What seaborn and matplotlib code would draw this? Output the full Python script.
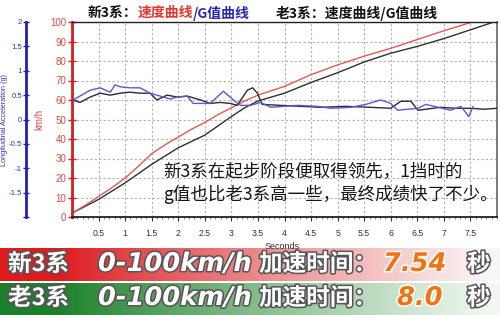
import numpy as np
import pandas as pd
import matplotlib
matplotlib.use("Agg")
import matplotlib.pyplot as plt
import matplotlib.patheffects as pe
import seaborn as sns

# ---------------- data ----------------
t_speed_new = [0, 0.25, 0.5, 0.75, 1.0, 1.25, 1.5, 1.75, 2.0, 2.25, 2.5, 2.75, 3.0, 3.25,
               3.5, 4.0, 4.5, 5.0, 5.5, 6.0, 6.5, 7.0, 7.54]
speed_new = [2, 6, 10.5, 15, 20, 26, 32.5, 37, 41, 45, 48.5, 52.5, 56, 59.5,
             62.5, 67, 73, 78, 82.5, 86.5, 91, 95.5, 100]

t_speed_old = [0, 0.5, 1.0, 1.5, 2.0, 2.5, 3.0, 3.25, 3.5, 4.0, 4.5, 5.0, 5.5, 6.0, 6.5,
               7.0, 7.5, 7.94]
speed_old = [2, 9, 17.5, 27, 35.5, 42, 51.5, 56, 59.5, 63.5, 69, 74, 79.5, 84, 87.5,
             91.5, 96, 100]

t_g_new = [0.02, 0.34, 0.53, 0.72, 0.81, 0.91, 1.09, 1.28, 1.47, 1.66, 1.85, 1.98, 2.17,
           2.28, 2.47, 2.60, 2.85, 3.04, 3.17, 3.36, 3.55, 3.74, 4.25, 4.62, 4.87, 5.25,
           5.53, 5.81, 6.0, 6.13, 6.51, 6.66, 6.89, 7.13, 7.32, 7.47, 7.55]
g_new = [0.40, 0.60, 0.65, 0.56, 0.71, 0.67, 0.65, 0.65, 0.54, 0.48, 0.42, 0.46, 0.48,
         0.33, 0.33, 0.33, 0.58, 0.40, 0.29, 0.29, 0.35, 0.25, 0.29, 0.27, 0.23, 0.25,
         0.31, 0.40, 0.33, 0.19, 0.23, 0.31, 0.25, 0.19, 0.27, 0.06, 0.27]

t_g_old = [0.02, 0.15, 0.34, 0.53, 0.72, 0.91, 1.09, 1.28, 1.47, 1.60, 1.79, 1.98, 2.17,
           2.42, 2.60, 2.79, 2.98, 3.11, 3.30, 3.40, 3.49, 3.58, 3.92, 4.30, 4.68, 5.15,
           5.62, 6.0, 6.19, 6.38, 6.51, 6.94, 7.23, 7.51, 7.75, 8.0]
g_old = [0.40, 0.35, 0.46, 0.54, 0.50, 0.54, 0.56, 0.54, 0.54, 0.40, 0.50, 0.46, 0.48,
         0.40, 0.33, 0.35, 0.33, 0.29, 0.60, 0.65, 0.54, 0.31, 0.29, 0.27, 0.25, 0.27,
         0.25, 0.23, 0.375, 0.375, 0.19, 0.25, 0.23, 0.23, 0.21, 0.23]

speed_ticks = [0, 10, 20, 30, 40, 50, 60, 70, 80, 90, 100]
g_ticks = [-2, -1.5, -1, -0.5, 0, 0.5, 1, 1.5, 2]
g_tick_labels = ["", "-1.5", "-1", "-0.5", "0", "0.5", "1", "1.5", "2"]
x_ticks = [0.5, 1, 1.5, 2, 2.5, 3, 3.5, 4, 4.5, 5, 5.5, 6, 6.5, 7, 7.5]
x_tick_labels = ["0.5", "1", "1.5", "2", "2.5", "3", "3.5", "4", "4.5", "5", "5.5", "6",
                 "6.5", "7", "7.5"]

# ---------------- style ----------------
sns.set_style("white")
plt.rcParams["font.family"] = ["Liberation Sans", "Noto Sans CJK SC"]
CJK = ["Noto Sans CJK SC", "DejaVu Sans"]

W, H = 500, 315
fig = plt.figure(figsize=(W / 100, H / 100), dpi=100)
fig.patch.set_facecolor("white")

# banners (background)
axb = fig.add_axes([0, 0, 1, 67 / H])
axb.set_axis_off()
xs = np.linspace(0, 1, 500)
w = np.clip((xs - 0.12) / 0.85, 0, 1) ** 0.9
red0 = np.array([222, 28, 32]) / 255
grn0 = np.array([28, 128, 42]) / 255
white = np.array([250, 245, 245]) / 255
whiteg = np.array([240, 248, 240]) / 255
red_row = red0[None, :] * (1 - w[:, None]) + white[None, :] * w[:, None]
grn_row = grn0[None, :] * (1 - w[:, None]) + whiteg[None, :] * w[:, None]
img = np.ones((67, 500, 3))
img[0:33] = red_row[None, :, :]
img[33:35] = 1.0
img[35:] = grn_row[None, :, :]
axb.imshow(img, aspect="auto", extent=[0, 1, 0, 1], origin="upper")

# main axes
L, R, T, B = 72, 497, 22, 217
ax = fig.add_axes([L / W, 1 - B / H, (R - L) / W, (B - T) / H])
ax.set_facecolor("white")

df_new = pd.DataFrame({"t": t_speed_new, "v": speed_new})
df_old = pd.DataFrame({"t": t_speed_old, "v": speed_old})
sns.lineplot(data=df_old, x="t", y="v", ax=ax, color="#303030", linewidth=1.0,
             estimator=None, sort=False)
sns.lineplot(data=df_new, x="t", y="v", ax=ax, color="#e05a55", linewidth=1.0,
             estimator=None, sort=False)
ax.set_xlim(0, 8)
ax.set_ylim(0, 100)
ax.set_yticks(speed_ticks)
ax.set_yticklabels([str(v) for v in speed_ticks])
ax.set_xticks(x_ticks)
ax.set_xticklabels(x_tick_labels)
ax.set_xticks(np.arange(0, 8.01, 0.1), minor=True)
ax.grid(True, which="major", linestyle=(0, (2, 2)), color="#b0b0b0", linewidth=0.8)
ax.set_axisbelow(True)
ax.tick_params(axis="y", which="major", direction="inout", length=6, width=1,
               color="#d02020", labelcolor="#dd4a40", labelsize=7, pad=1, left=True)
ax.tick_params(axis="x", which="major", direction="out", length=3, width=0.8,
               color="#333333", labelcolor="#333333", labelsize=6.3, pad=6, bottom=True)
ax.tick_params(axis="x", which="minor", direction="out", length=1.5, width=0.5,
               color="#555555", bottom=True)
ax.spines["left"].set_color("#d02020")
ax.spines["left"].set_linewidth(2)
ax.spines["bottom"].set_color("#222222")
ax.spines["bottom"].set_linewidth(1.3)
ax.spines["top"].set_color("#222222")
ax.spines["top"].set_linewidth(1.0)
ax.spines["right"].set_color("#666666")
ax.spines["right"].set_linewidth(1.2)
ax.set_xlabel("Seconds", fontsize=6.5, color="#333333", labelpad=1)
ax.set_ylabel("km/h", fontsize=7, color="#dd4a40")
ax.yaxis.set_label_coords((44 - L) / (R - L), 0.5)
ax.xaxis.set_label_coords((282 - L) / (R - L), -(242 - B) / (B - T))

# G axis
ax2 = ax.twinx()
dg_new = pd.DataFrame({"t": t_g_new, "g": g_new})
dg_old = pd.DataFrame({"t": t_g_old, "g": g_old})
sns.lineplot(data=dg_old, x="t", y="g", ax=ax2, color="#2a2a3a", linewidth=1.0,
             estimator=None, sort=False)
sns.lineplot(data=dg_new, x="t", y="g", ax=ax2, color="#5a5ac8", linewidth=1.0,
             estimator=None, sort=False)
ax2.set_ylim(-2, 2)
ax2.set_xlim(0, 8)
ax2.yaxis.set_ticks_position("left")
ax2.yaxis.set_label_position("left")
ax2.spines["left"].set_position(("outward", 33))
ax2.spines["left"].set_visible(True)
ax2.spines["left"].set_color("#2020b0")
ax2.spines["left"].set_linewidth(2)
for s in ["right", "top", "bottom"]:
    ax2.spines[s].set_visible(False)
ax2.set_yticks(g_ticks)
ax2.set_yticklabels(g_tick_labels)
ax2.tick_params(axis="y", direction="inout", length=5, width=1, color="#2020b0",
                labelcolor="#3535b0", labelsize=5.6, pad=0.5, left=True, right=False)
ax2.set_xlabel("")
ax2.set_ylabel("Longitudinal Acceleration (g)", fontsize=5.3, color="#3535b0")
ax2.yaxis.set_label_coords((8 - L) / (R - L), 0.5)
ax2.grid(False)

# ---------------- texts ----------------
renderer = fig.canvas.get_renderer()


def seq_text(x_px, y_px, pieces, **kw):
    x = x_px
    for s, color in pieces:
        t = fig.text(x / W, 1 - y_px / H, s, color=color, va="center", ha="left", **kw)
        x += t.get_window_extent(renderer).width


seq_text(88, 13, [("新3系：", "#111111"), ("速度曲线", "#e8352c"), ("/G值曲线", "#2828b0")],
         family=CJK, fontsize=10, fontweight="bold")
seq_text(276, 13, [("老3系：速度曲线/G值曲线", "#111111")],
         family=CJK, fontsize=10, fontweight="bold")

box_kw = dict(family=CJK, fontsize=12.6, color="#151515", va="center", ha="left")
fig.text(163 / W, 1 - 172 / H, "新3系在起步阶段便取得领先，1挡时的", **box_kw)
fig.text(163 / W, 1 - 194 / H, "g值也比老3系高一些，最终成绩快了不少。", **box_kw)

stroke_dark = [pe.withStroke(linewidth=2.2, foreground="#555555")]
stroke_white = [pe.withStroke(linewidth=2.2, foreground="white")]
lat = dict(family="DejaVu Sans", fontweight="bold", style="oblique", fontsize=18.5,
           va="center", ha="left")
cjk = dict(family=CJK, fontweight="bold", fontsize=17, va="center", ha="left")
for y, name, val, xv in [(264, "新3系", "7.54", 383), (298, "老3系", "8.0", 397)]:
    yf = 1 - y / H
    fig.text(8 / W, yf, name, color="white", path_effects=stroke_dark, **cjk)
    fig.text(98 / W, yf, "0-100km/h", color="white", path_effects=stroke_dark, **lat)
    fig.text(259 / W, yf, "加速时间：", color="white", path_effects=stroke_dark, **cjk)
    fig.text(xv / W, yf, val, color="#f07414", path_effects=stroke_white, **lat)
    fig.text(467 / W, yf, "秒", color="white", path_effects=stroke_dark, **cjk)

fig.savefig("out.png", dpi=100)
